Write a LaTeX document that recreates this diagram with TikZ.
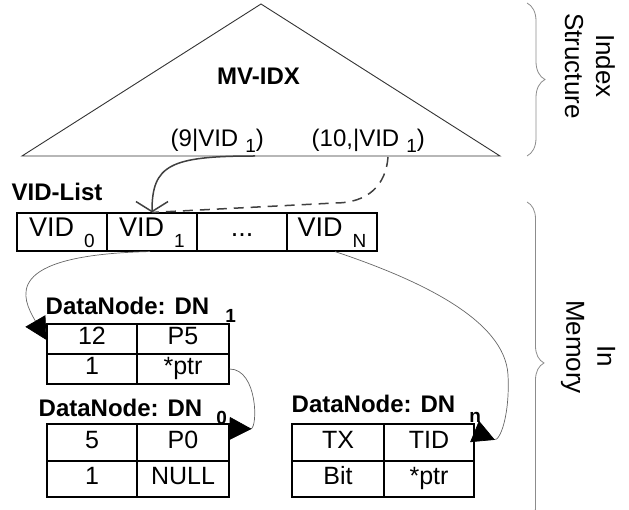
\documentclass[tikz,border=0pt]{standalone}
\usepackage{fontspec}
\setmainfont{Liberation Sans}
\usetikzlibrary{arrows.meta,decorations.pathreplacing}
\newcommand{\pxsize}[1]{\fontsize{#1}{#1}\selectfont}
\newcommand{\lowsub}[2]{\raisebox{-#1pt}{\pxsize{19}#2}}
\begin{document}
\begin{tikzpicture}[x=1pt,y=-1pt,
  every node/.style={inner sep=0pt},
  vidcell/.style={draw=black,line width=1.1pt,minimum width=90pt,minimum height=38pt,
    text height=18.6pt,text depth=9pt,font=\pxsize{27}},
  tcell/.style={draw=black,line width=1.1pt,text height=17pt,text depth=6pt,font=\pxsize{25}},
  heading/.style={font=\bfseries\pxsize{24}},
  keytext/.style={font=\pxsize{24}},
  sidelabel/.style={rotate=-90,align=center,font=\fontsize{26}{31}\selectfont},
  tree/.style={draw=black!80,line width=0.9pt},
  ptr/.style={draw=black!60,line width=0.7pt},
  hit/.style={draw=black!75,line width=1.5pt},
  bracket/.style={draw=black!45,line width=0.8pt,decorate,decoration={brace,amplitude=#1}},
  headtip/.style={-{Triangle[length=22pt,width=23pt,color=black]}},
  backtip/.style={-{Triangle[reversed,length=22pt,width=23pt,color=black]}},
]
\useasboundingbox (0,0) rectangle (629,510);

% index tree
\draw[tree] (22,156) -- (261,4) -- (500,156) -- cycle;
\node[heading,anchor=base] (mvidx) at (258.5,85) {MV-IDX};
\node[keytext,anchor=base west] (k9) at (170.5,147) {(9|VID\hspace{7pt}\lowsub{6}{1})};
\node[keytext,anchor=base west] (k10) at (311.5,147) {(10,|VID\hspace{7pt}\lowsub{6}{1})};
\coordinate (s9) at (255,156);
\coordinate (s10) at (388,157);

% VID list
\node[heading,anchor=base west] (vl) at (11.5,201) {VID-List};
\node[vidcell] (c0) at (62,232) {VID\hspace{10pt}\lowsub{11}{0}};
\node[vidcell] (c1) at (152,232) {VID\hspace{10pt}\lowsub{11}{1}};
\node[vidcell] (c2) at (242,232) {...};
\node[vidcell] (c3) at (332,232) {VID\hspace{10pt}\lowsub{11}{N}};

% data node DN1
\node[heading,anchor=base west] (h1) at (45.5,315) {DataNode: DN\hspace{16pt}\lowsub{8}{1}};
\node[tcell,minimum width=90pt,minimum height=30pt] (d1a) at (92,339) {12};
\node[tcell,minimum width=92pt,minimum height=30pt] (d1b) at (183,339) {P5};
\node[tcell,minimum width=90pt,minimum height=30pt] (d1c) at (92,369) {1};
\node[tcell,minimum width=92pt,minimum height=30pt] (d1d) at (183,369) {*ptr};

% data node DN0
\node[heading,anchor=base west] (h0) at (38.5,417) {DataNode: DN\hspace{14pt}\lowsub{8}{0}};
\node[tcell,minimum width=90pt,minimum height=37pt] (d0a) at (92,442.5) {5};
\node[tcell,minimum width=92pt,minimum height=37pt] (d0b) at (183,442.5) {P0};
\node[tcell,minimum width=90pt,minimum height=36pt] (d0c) at (92,479) {1};
\node[tcell,minimum width=92pt,minimum height=36pt] (d0d) at (183,479) {NULL};

% data node DNn
\node[heading,anchor=base west] (hn) at (291.5,412) {DataNode: DN\hspace{14pt}\lowsub{10}{n}};
\node[tcell,minimum width=92pt,minimum height=37pt] (dna) at (338,442.5) {TX};
\node[tcell,minimum width=90pt,minimum height=37pt] (dnb) at (429,442.5) {TID};
\node[tcell,minimum width=92pt,minimum height=36pt] (dnc) at (338,479) {Bit};
\node[tcell,minimum width=90pt,minimum height=36pt] (dnd) at (429,479) {*ptr};

% side braces and labels
\draw[bracket=18pt] (527,3) -- (527,156);
\draw[bracket=17pt] (527,202) -- (527,524);
\node[sidelabel] (idx) at (590,66) {Index\\Structure};
\node[sidelabel] (mem) at (588,347) {\hspace*{18pt}In\\Memory};

% index entries into the VID list
\draw[hit,-{Straight Barb[length=10pt,width=32pt]}] (s9) .. controls (170,156) and (152,165) .. (c1.north);
\draw[hit,dash pattern=on 10pt off 7pt] (s10) .. controls (386,185) and (368,203) .. (335,203) -- (c1.north);

% pointers to data nodes
\draw[ptr,headtip] ([xshift=-2pt]c1.south) .. controls (0,255) and (22,298) .. ([yshift=-1pt]d1a.west);
\draw[ptr,backtip] (d1d.east) .. controls (258,369) and (258,429) .. ([yshift=-5pt]d0b.north east);
\draw[ptr,backtip] ([xshift=3pt]c3.south) .. controls (420,280) and (505,320) .. (508,375)
  .. controls (510,415) and (500,442) .. ([yshift=-8pt]dnb.north east);
\end{tikzpicture}
\end{document}
